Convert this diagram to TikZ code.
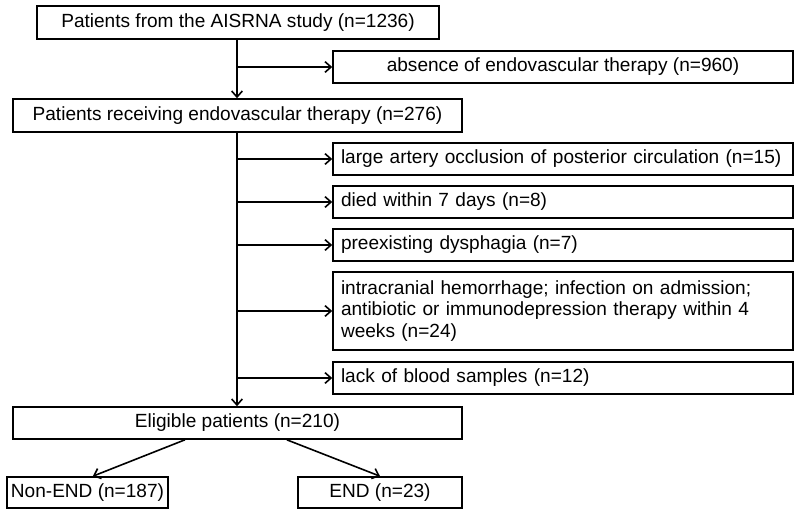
\documentclass[tikz,border=0pt]{standalone}
\usepackage{fontspec}
\setmainfont{Liberation Sans}
\usetikzlibrary{arrows.meta}
\begin{document}
\begin{tikzpicture}[x=0.75pt,y=-0.75pt,
  box/.style={draw, line width=1.2pt, inner xsep=2pt, inner ysep=0pt,
    font=\fontsize{14.3}{15.8}\selectfont, minimum height=24pt, align=center},
  lbox/.style={draw, line width=1.2pt, inner xsep=6pt, inner ysep=0pt,
    font=\fontsize{14.3}{15.8}\selectfont, minimum height=24pt, align=left, text width=333pt},
  arr/.style={line width=1.2pt, -{Straight Barb[length=4.5pt,width=8pt,line width=1.2pt]}},
  ln/.style={line width=1.2pt}]
\useasboundingbox (0,0) rectangle (800,515);
\coordinate (vx) at (237,0);
% left column
\node[box, minimum width=301.5pt, minimum height=24.75pt] (src) at (238,22.5) {Patients from the AISRNA study (n=1236)};
\node[box, minimum width=336.75pt, minimum height=24.75pt] (evt) at (237.5,115.5) {Patients receiving endovascular therapy (n=276)};
\node[box, minimum width=336.75pt] (elig) at (237.5,423) {Eligible patients (n=210)};
\node[box, minimum width=120.75pt, minimum height=23.25pt] (nonend) at (87.5,492.5) {Non-END (n=187)};
\node[box, minimum width=123pt, minimum height=23.25pt] (endb) at (380,492.5) {END (n=23)};
% right column
\node[box, minimum width=345pt] (absent) at (563,67) {absence of endovascular therapy (n=960)};
\node[lbox] (ex1) at (563,159) {large artery occlusion of posterior circulation (n=15)};
\node[lbox] (ex2) at (563,202) {died within 7 days (n=8)};
\node[lbox] (ex3) at (563,245) {preexisting dysphagia (n=7)};
\node[lbox, minimum height=58.5pt] (ex4) at (563,311) {intracranial hemorrhage; infection on admission;\\antibiotic or immunodepression therapy within 4\\weeks (n=24)};
\node[lbox] (ex5) at (563,378) {lack of blood samples (n=12)};
% connectors
\draw[arr] (src.south -| vx) -- (evt.north -| vx);
\draw[arr] (vx |- absent.west) -- (absent.west);
\draw[arr] (evt.south -| vx) -- (elig.north -| vx);
\foreach \b in {ex1,ex2,ex3,ex4,ex5}{
  \draw[arr] (vx |- \b.west) -- (\b.west);
}
\draw[arr] ([xshift=-39.4pt]elig.south) -- ([xshift=4pt]nonend.north);
\draw[arr] ([xshift=37pt]elig.south) -- (endb.north);
\end{tikzpicture}
\end{document}
